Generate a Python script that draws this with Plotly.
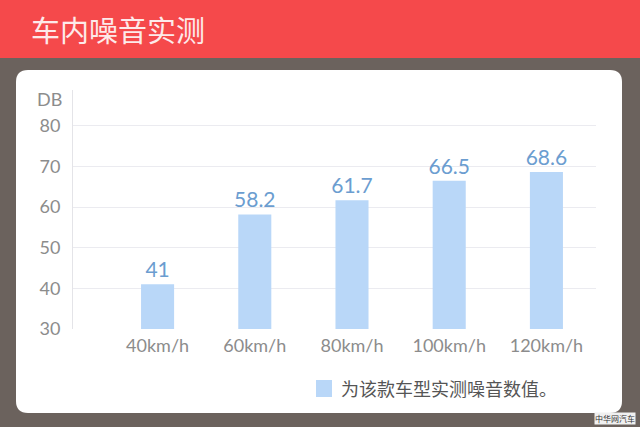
import plotly.graph_objects as go

categories = ["40km/h", "60km/h", "80km/h", "100km/h", "120km/h"]
values = [41, 58.2, 61.7, 66.5, 68.6]
value_labels = ["41", "58.2", "61.7", "66.5", "68.6"]
y_ticks = [30, 40, 50, 60, 70, 80]
title_text = "车内噪音实测"
legend_text = "为该款车型实测噪音数值。"
unit_text = "DB"
watermark = "中华网汽车"

W, H = 640, 427
L, R, T, B = 73, 596, 90, 329  # plot area in pixels
pw, ph = R - L, B - T


def px(x):
    return (x - L) / pw


def py(y):
    return (B - y) / ph


fig = go.Figure()
fig.add_trace(go.Bar(
    x=list(range(len(categories))), y=values,
    text=value_labels, textposition="outside", constraintext="none",
    textfont=dict(family="Lato, Noto Sans", size=21, color="#6b9dd0"),
    marker=dict(color="#b9d7f8", line=dict(width=0)),
    width=0.34, cliponaxis=False, showlegend=False,
    hoverinfo="x+y",
))

shapes = []
# brown background
shapes.append(dict(type="rect", xref="paper", yref="paper",
                   x0=px(0), x1=px(W), y0=py(H), y1=py(0),
                   fillcolor="#6b625d", line=dict(width=0), layer="below"))
# red header
shapes.append(dict(type="rect", xref="paper", yref="paper",
                   x0=px(0), x1=px(W), y0=py(58), y1=py(0),
                   fillcolor="#f5494b", line=dict(width=0), layer="below"))
# white rounded panel
x0, x1, y0, y1 = 16, 622, 70, 413
r = 12
rx, ry = r / pw, r / ph
X0, X1, Y0, Y1 = px(x0), px(x1), py(y1), py(y0)
path = (f"M {X0+rx},{Y1} L {X1-rx},{Y1} Q {X1},{Y1} {X1},{Y1-ry} "
        f"L {X1},{Y0+ry} Q {X1},{Y0} {X1-rx},{Y0} L {X0+rx},{Y0} "
        f"Q {X0},{Y0} {X0},{Y0+ry} L {X0},{Y1-ry} Q {X0},{Y1} {X0+rx},{Y1} Z")
shapes.append(dict(type="path", xref="paper", yref="paper", path=path,
                   fillcolor="#ffffff", line=dict(width=0), layer="below"))
# legend swatch
shapes.append(dict(type="rect", xref="paper", yref="paper",
                   x0=px(316), x1=px(332), y0=py(397), y1=py(380),
                   fillcolor="#b9d7f8", line=dict(width=0)))

annotations = [
    dict(text=title_text, xref="paper", yref="paper", x=px(29), y=py(29),
         xanchor="left", yanchor="middle", showarrow=False,
         font=dict(family="Noto Sans CJK SC", size=29, color="#fdeaea")),
    dict(text=unit_text, xref="paper", yref="paper", x=px(64), y=py(99),
         xanchor="right", yanchor="middle", showarrow=False,
         font=dict(family="Lato, Noto Sans", size=18, color="#8c8c8c")),
    dict(text=legend_text, xref="paper", yref="paper", x=px(339), y=py(388),
         xanchor="left", yanchor="middle", showarrow=False,
         font=dict(family="Noto Sans CJK SC", size=18, color="#555555")),
    dict(text=watermark, xref="paper", yref="paper", x=px(636), y=py(418),
         xanchor="right", yanchor="middle", showarrow=False,
         bgcolor="#f0f0f0", borderpad=0,
         font=dict(family="Noto Sans CJK SC", size=8, color="#333333")),
]

fig.update_layout(
    width=W, height=H,
    margin=dict(l=L, r=W - R, t=T, b=H - B),
    paper_bgcolor="#6b625d", plot_bgcolor="rgba(0,0,0,0)",
    shapes=shapes, annotations=annotations,
    xaxis=dict(range=[-0.87, 4.51], tickvals=list(range(len(categories))),
               ticktext=categories, showgrid=False, zeroline=False,
               showline=False, ticks="", ticklabelstandoff=4,
               tickfont=dict(family="Lato, Noto Sans", size=18, color="#8c8c8c")),
    yaxis=dict(range=[30, 88.8], tickvals=y_ticks, showgrid=True,
               gridcolor="#ebebf0", gridwidth=1, zeroline=False,
               showline=True, linecolor="#e4e4e8", linewidth=1, ticks="",
               ticklabelstandoff=8,
               tickfont=dict(family="Lato, Noto Sans", size=18, color="#8c8c8c")),
    bargap=0.5,
)

fig.write_html(
    "out.html",
    config={"displayModeBar": False},
    post_script="document.body.style.margin='0';document.body.style.overflow='hidden';"
                "document.body.style.background='#6b625d';",
)
